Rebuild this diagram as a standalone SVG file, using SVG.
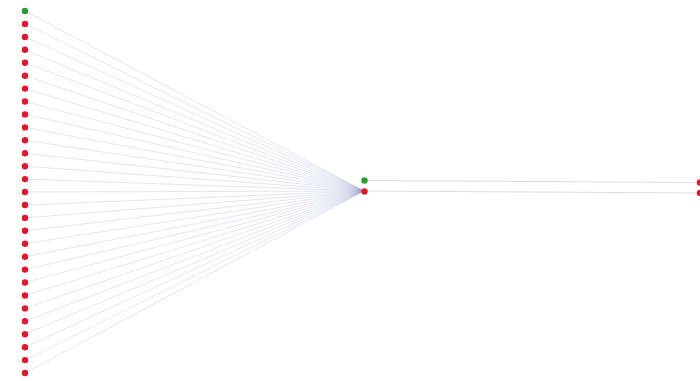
<svg xmlns="http://www.w3.org/2000/svg" width="700" height="381" viewBox="0 0 700 381">
<style>
.e{stroke:#8e96cc;stroke-opacity:0.25;stroke-width:1;fill:none}
.h{stroke:#dcdce6;stroke-width:1;fill:none}
.r{fill:#e0182e}
.g{fill:#2a9a34}
</style>
<rect width="700" height="381" fill="#ffffff"/>
<g id="edges">
<line class="e" x1="25" y1="11" x2="364" y2="191"/>
<line class="e" x1="25" y1="23.9" x2="364" y2="191"/>
<line class="e" x1="25" y1="36.9" x2="364" y2="191"/>
<line class="e" x1="25" y1="49.8" x2="364" y2="191"/>
<line class="e" x1="25" y1="62.7" x2="364" y2="191"/>
<line class="e" x1="25" y1="75.7" x2="364" y2="191"/>
<line class="e" x1="25" y1="88.6" x2="364" y2="191"/>
<line class="e" x1="25" y1="101.5" x2="364" y2="191"/>
<line class="e" x1="25" y1="114.4" x2="364" y2="191"/>
<line class="e" x1="25" y1="127.4" x2="364" y2="191"/>
<line class="e" x1="25" y1="140.3" x2="364" y2="191"/>
<line class="e" x1="25" y1="153.2" x2="364" y2="191"/>
<line class="e" x1="25" y1="166.2" x2="364" y2="191"/>
<line class="e" x1="25" y1="179.1" x2="364" y2="191"/>
<line class="e" x1="25" y1="192" x2="364" y2="191"/>
<line class="e" x1="25" y1="205" x2="364" y2="191"/>
<line class="e" x1="25" y1="217.9" x2="364" y2="191"/>
<line class="e" x1="25" y1="230.8" x2="364" y2="191"/>
<line class="e" x1="25" y1="243.7" x2="364" y2="191"/>
<line class="e" x1="25" y1="256.7" x2="364" y2="191"/>
<line class="e" x1="25" y1="269.6" x2="364" y2="191"/>
<line class="e" x1="25" y1="282.5" x2="364" y2="191"/>
<line class="e" x1="25" y1="295.5" x2="364" y2="191"/>
<line class="e" x1="25" y1="308.4" x2="364" y2="191"/>
<line class="e" x1="25" y1="321.3" x2="364" y2="191"/>
<line class="e" x1="25" y1="334.3" x2="364" y2="191"/>
<line class="e" x1="25" y1="347.2" x2="364" y2="191"/>
<line class="e" x1="25" y1="360.1" x2="364" y2="191"/>
<line class="e" x1="25" y1="373" x2="364" y2="191"/>
<line class="h" x1="364" y1="180.5" x2="700" y2="182.5"/>
<line class="h" x1="364" y1="191" x2="700" y2="193"/>
</g>
<g id="n0"><circle class="g" cx="25" cy="11" r="3.2"/></g>
<g id="n1"><circle class="r" cx="25" cy="23.9" r="3.2"/></g>
<g id="n2"><circle class="r" cx="25" cy="36.9" r="3.2"/></g>
<g id="n3"><circle class="r" cx="25" cy="49.8" r="3.2"/></g>
<g id="n4"><circle class="r" cx="25" cy="62.7" r="3.2"/></g>
<g id="n5"><circle class="r" cx="25" cy="75.7" r="3.2"/></g>
<g id="n6"><circle class="r" cx="25" cy="88.6" r="3.2"/></g>
<g id="n7"><circle class="r" cx="25" cy="101.5" r="3.2"/></g>
<g id="n8"><circle class="r" cx="25" cy="114.4" r="3.2"/></g>
<g id="n9"><circle class="r" cx="25" cy="127.4" r="3.2"/></g>
<g id="n10"><circle class="r" cx="25" cy="140.3" r="3.2"/></g>
<g id="n11"><circle class="r" cx="25" cy="153.2" r="3.2"/></g>
<g id="n12"><circle class="r" cx="25" cy="166.2" r="3.2"/></g>
<g id="n13"><circle class="r" cx="25" cy="179.1" r="3.2"/></g>
<g id="n14"><circle class="r" cx="25" cy="192" r="3.2"/></g>
<g id="n15"><circle class="r" cx="25" cy="205" r="3.2"/></g>
<g id="n16"><circle class="r" cx="25" cy="217.9" r="3.2"/></g>
<g id="n17"><circle class="r" cx="25" cy="230.8" r="3.2"/></g>
<g id="n18"><circle class="r" cx="25" cy="243.7" r="3.2"/></g>
<g id="n19"><circle class="r" cx="25" cy="256.7" r="3.2"/></g>
<g id="n20"><circle class="r" cx="25" cy="269.6" r="3.2"/></g>
<g id="n21"><circle class="r" cx="25" cy="282.5" r="3.2"/></g>
<g id="n22"><circle class="r" cx="25" cy="295.5" r="3.2"/></g>
<g id="n23"><circle class="r" cx="25" cy="308.4" r="3.2"/></g>
<g id="n24"><circle class="r" cx="25" cy="321.3" r="3.2"/></g>
<g id="n25"><circle class="r" cx="25" cy="334.3" r="3.2"/></g>
<g id="n26"><circle class="r" cx="25" cy="347.2" r="3.2"/></g>
<g id="n27"><circle class="r" cx="25" cy="360.1" r="3.2"/></g>
<g id="n28"><circle class="r" cx="25" cy="373" r="3.2"/></g>
<g id="m0"><circle class="g" cx="364.5" cy="180.5" r="3.2"/></g>
<g id="m1"><circle class="r" cx="364.5" cy="191.5" r="3.2"/></g>
<g id="r0"><circle class="r" cx="700" cy="182.5" r="3.2"/></g>
<g id="r1"><circle class="r" cx="700" cy="193" r="3.2"/></g>
</svg>
